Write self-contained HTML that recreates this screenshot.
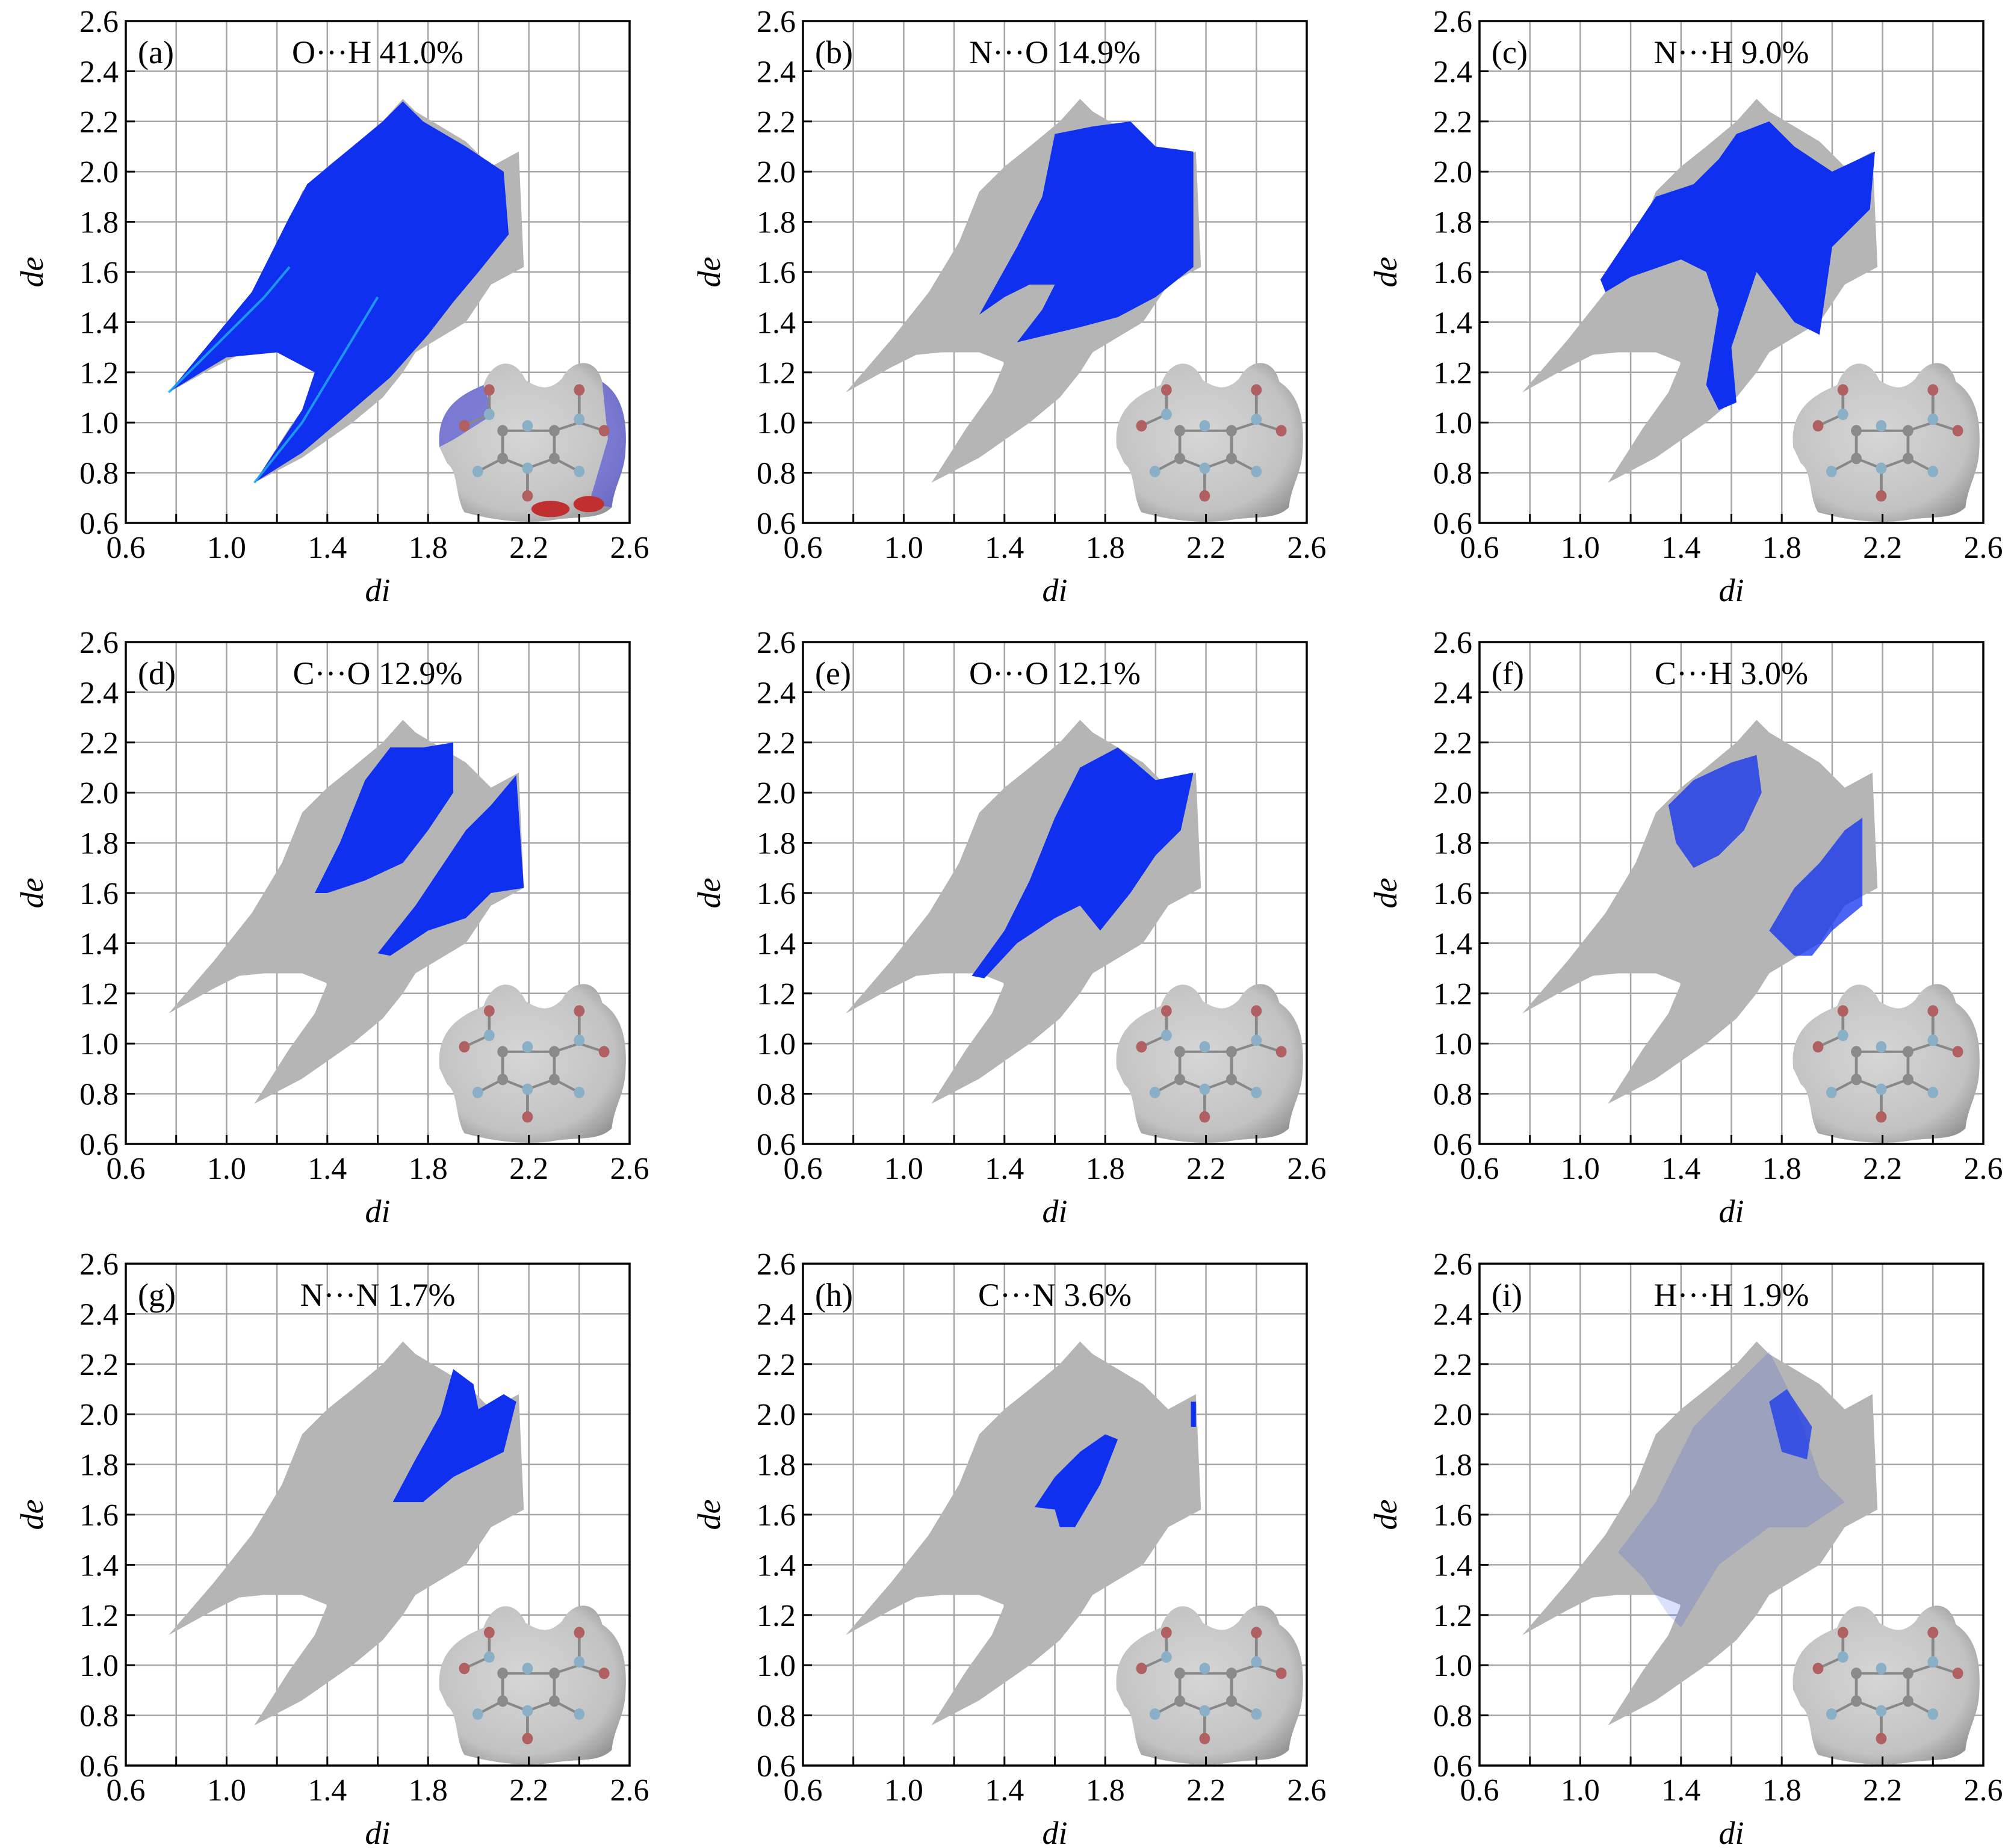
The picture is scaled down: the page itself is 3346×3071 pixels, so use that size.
<!DOCTYPE html>
<html><head><meta charset="utf-8"><style>
html,body{margin:0;padding:0;background:#fff;}
svg{display:block;font-family:"Liberation Serif",serif;}
</style></head><body>
<svg id="fig" width="3346" height="3071" viewBox="0 0 3346 3071" xmlns="http://www.w3.org/2000/svg">
<defs>
<radialGradient id="blobGrad" cx="0.45" cy="0.45" r="0.65">
<stop offset="0" stop-color="#d6d6d6"/><stop offset="0.75" stop-color="#c2c2c2"/><stop offset="1" stop-color="#959595"/>
</radialGradient>
</defs>
</svg>
<script>
// ---- shared axis settings ----
const xTicks = [0.6, 1.0, 1.4, 1.8, 2.2, 2.6];
const xTickLabels = ["0.6", "1.0", "1.4", "1.8", "2.2", "2.6"];
const yTicks = [0.6, 0.8, 1.0, 1.2, 1.4, 1.6, 1.8, 2.0, 2.2, 2.4, 2.6];
const yTickLabels = ["0.6", "0.8", "1.0", "1.2", "1.4", "1.6", "1.8", "2.0", "2.2", "2.4", "2.6"];
const gridVals = [0.8, 1.0, 1.2, 1.4, 1.6, 1.8, 2.0, 2.2, 2.4];

// ---- panel labels ----
const panelLetters = ["(a)", "(b)", "(c)", "(d)", "(e)", "(f)", "(g)", "(h)", "(i)"];
const panelTitles = ["O\u00b7\u00b7\u00b7H 41.0%", "N\u00b7\u00b7\u00b7O 14.9%", "N\u00b7\u00b7\u00b7H 9.0%",
  "C\u00b7\u00b7\u00b7O 12.9%", "O\u00b7\u00b7\u00b7O 12.1%", "C\u00b7\u00b7\u00b7H 3.0%",
  "N\u00b7\u00b7\u00b7N 1.7%", "C\u00b7\u00b7\u00b7N 3.6%", "H\u00b7\u00b7\u00b7H 1.9%"];

// ---- full fingerprint outline (di, de) ----
const fullDi = [0.77,0.95,1.10,1.22,1.30,1.40,1.50,1.62,1.70,1.75,1.85,1.95,2.05,2.16,2.18,2.05,1.95,1.85,1.75,1.70,1.62,1.50,1.30,1.11,1.25,1.35,1.40,1.30,1.15,1.05,0.95];
const fullDe = [1.12,1.33,1.52,1.72,1.92,2.02,2.10,2.20,2.29,2.24,2.18,2.12,2.02,2.08,1.62,1.55,1.40,1.34,1.28,1.20,1.10,1.00,0.86,0.76,0.98,1.12,1.24,1.28,1.28,1.27,1.22];

// ---- contact-specific regions (di, de) ----
const aDi = [0.77,1.10,1.25,1.32,1.50,1.62,1.70,1.78,1.95,2.10,2.12,2.00,1.90,1.80,1.65,1.50,1.30,1.11,1.30,1.35,1.20,1.00,0.90];
const aDe = [1.12,1.52,1.82,1.95,2.10,2.20,2.28,2.20,2.10,2.00,1.75,1.60,1.48,1.35,1.18,1.05,0.88,0.76,1.05,1.20,1.28,1.26,1.20];
const aStreak1Di = [0.77,1.00,1.15,1.25]; const aStreak1De = [1.12,1.35,1.50,1.62];
const aStreak2Di = [1.11,1.30,1.45,1.60]; const aStreak2De = [0.76,1.00,1.25,1.50];
const bDi = [1.30,1.45,1.55,1.60,1.75,1.90,2.00,2.15,2.15,2.00,1.85,1.70,1.45,1.55,1.60,1.50,1.40];
const bDe = [1.43,1.70,1.90,2.15,2.18,2.20,2.10,2.08,1.62,1.50,1.42,1.38,1.32,1.45,1.55,1.55,1.50];
const cDi = [1.08,1.30,1.45,1.55,1.62,1.75,1.85,2.00,2.17,2.15,2.00,1.95,1.85,1.70,1.60,1.62,1.55,1.50,1.55,1.50,1.40,1.20,1.10];
const cDe = [1.57,1.90,1.95,2.05,2.15,2.20,2.10,2.00,2.08,1.85,1.70,1.35,1.40,1.60,1.30,1.08,1.05,1.15,1.45,1.60,1.65,1.58,1.52];
const d1Di = [1.35,1.45,1.55,1.65,1.78,1.90,1.90,1.80,1.70,1.55,1.40];
const d1De = [1.60,1.80,2.05,2.18,2.18,2.20,2.00,1.85,1.72,1.65,1.60];
const d2Di = [1.60,1.75,1.85,1.95,2.05,2.15,2.18,2.05,1.95,1.80,1.65];
const d2De = [1.36,1.55,1.70,1.85,1.95,2.07,1.62,1.60,1.50,1.45,1.35];
const eDi = [1.27,1.40,1.50,1.60,1.70,1.85,2.00,2.15,2.10,2.00,1.90,1.78,1.70,1.60,1.45,1.32];
const eDe = [1.27,1.45,1.65,1.90,2.10,2.18,2.05,2.08,1.85,1.75,1.60,1.45,1.55,1.50,1.40,1.26];
const f1Di = [1.35,1.45,1.60,1.70,1.72,1.65,1.55,1.45,1.38];
const f1De = [1.95,2.05,2.12,2.15,2.00,1.85,1.75,1.70,1.80];
const f2Di = [1.75,1.85,1.95,2.05,2.12,2.12,2.00,1.92,1.85,1.80];
const f2De = [1.45,1.62,1.72,1.85,1.90,1.55,1.45,1.35,1.35,1.40];
const gDi = [1.66,1.75,1.85,1.90,1.98,2.00,2.10,2.15,2.10,2.00,1.90,1.78,1.72];
const gDe = [1.65,1.82,2.00,2.18,2.12,2.02,2.08,2.05,1.85,1.80,1.75,1.65,1.65];
const hDi = [1.52,1.60,1.70,1.80,1.85,1.78,1.68,1.62,1.60];
const hDe = [1.63,1.75,1.85,1.92,1.90,1.72,1.55,1.55,1.62];
const h2Di = [2.14,2.16,2.16,2.14]; const h2De = [1.95,1.95,2.05,2.05];
const iDi = [1.15,1.30,1.45,1.65,1.75,1.85,1.95,2.05,1.90,1.75,1.55,1.40,1.35,1.25];
const iDe = [1.45,1.65,1.95,2.15,2.25,2.05,1.75,1.65,1.55,1.55,1.40,1.15,1.20,1.35];
const i2Di = [1.75,1.82,1.92,1.90,1.80]; const i2De = [2.05,2.10,1.95,1.82,1.85];

const panelRegions = [
  [{di:aDi,de:aDe,op:1}],
  [{di:bDi,de:bDe,op:1}],
  [{di:cDi,de:cDe,op:1}],
  [{di:d1Di,de:d1De,op:1},{di:d2Di,de:d2De,op:1}],
  [{di:eDi,de:eDe,op:1}],
  [{di:f1Di,de:f1De,op:0.75},{di:f2Di,de:f2De,op:0.75}],
  [{di:gDi,de:gDe,op:1}],
  [{di:hDi,de:hDe,op:1},{di:h2Di,de:h2De,op:1}],
  [{di:iDi,de:iDe,op:0.15},{di:i2Di,de:i2De,op:0.7}]
];

// ---- layout ----
const NS = "http://www.w3.org/2000/svg";
const svg = document.getElementById("fig");
const colX = [209, 1334, 2458];
const rowY = [35, 1067, 2100];
const PW = 837, PH = 834;

function mk(tag, attrs, parent) {
  const e = document.createElementNS(NS, tag);
  for (const k in attrs) e.setAttribute(k, attrs[k]);
  parent.appendChild(e);
  return e;
}

for (let p = 0; p < 9; p++) {
  const x0 = colX[p % 3], y0 = rowY[Math.floor(p / 3)];
  const sx = v => x0 + (v - 0.6) / 2.0 * PW;
  const sy = v => y0 + PH - (v - 0.6) / 2.0 * PH;
  const g = mk("g", {}, svg);
  
  

  for (const v of gridVals) {
    const gl = mk("line", {x1: sx(v), x2: sx(v), y1: y0, y2: y0 + PH, stroke: "#a6a6a6", "stroke-width": 2.5}, g);
    
    
    const gh = mk("line", {x1: x0, x2: x0 + PW, y1: sy(v), y2: sy(v), stroke: "#a6a6a6", "stroke-width": 2.5}, g);
    
    
  }

  const pts = fullDi.map((d, i) => sx(d) + "," + sy(fullDe[i])).join(" ");
  const full = mk("polygon", {points: pts, fill: "#b5b5b5"}, g);
  
  

  for (const r of panelRegions[p]) {
    const rp = r.di.map((d, i) => sx(d) + "," + sy(r.de[i])).join(" ");
    const poly = mk("polygon", {points: rp, fill: "#1030f0", "fill-opacity": r.op}, g);
    
    
  }
  if (p === 0) {
    for (const s of [[aStreak1Di, aStreak1De], [aStreak2Di, aStreak2De]]) {
      const sp = s[0].map((d, i) => sx(d) + "," + sy(s[1][i])).join(" ");
      const pl = mk("polyline", {points: sp, fill: "none", stroke: "#20b0f0", "stroke-width": 4, "stroke-opacity": 0.8}, g);
      
      
    }
  }

  const ix = sx(1.83), iy = sy(1.26), iw = sx(2.59) - sx(1.83), ih = sy(0.61) - sy(1.26);
  const ins = mk("g", {transform: `translate(${ix},${iy}) scale(${iw},${ih})`}, g);
  
  
  mk("path", {d: "M0.02,0.55 C0.0,0.3 0.15,0.22 0.25,0.17 C0.3,0.0 0.42,0.0 0.47,0.14 C0.55,0.2 0.6,0.2 0.66,0.13 C0.72,0.0 0.84,0.0 0.87,0.15 C1.0,0.25 1.0,0.45 0.99,0.6 C0.98,0.72 0.93,0.8 0.92,0.92 C0.85,1.0 0.75,0.97 0.6,1.0 C0.45,1.02 0.3,1.0 0.15,0.95 C0.1,0.85 0.12,0.7 0.06,0.65 Z", fill: "url(#blobGrad)"}, ins);
  if (p === 0) {
    mk("path", {d: "M0.02,0.55 C0.0,0.3 0.15,0.22 0.25,0.17 L0.3,0.35 L0.1,0.5 Z", fill: "#5a5ad8", "fill-opacity": 0.7}, ins);
    mk("path", {d: "M0.87,0.15 C1.0,0.25 1.0,0.45 0.99,0.6 C0.98,0.72 0.93,0.8 0.92,0.92 L0.8,0.9 L0.9,0.5 Z", fill: "#5a5ad8", "fill-opacity": 0.7}, ins);
    mk("ellipse", {cx: 0.6, cy: 0.93, rx: 0.1, ry: 0.05, fill: "#c03030"}, ins);
    mk("ellipse", {cx: 0.8, cy: 0.9, rx: 0.08, ry: 0.05, fill: "#c03030"}, ins);
  }
  const bonds = [[0.35,0.45,0.48,0.45],[0.48,0.45,0.62,0.45],[0.62,0.45,0.75,0.4],[0.35,0.45,0.35,0.62],[0.62,0.45,0.62,0.62],[0.35,0.62,0.48,0.68],[0.48,0.68,0.62,0.62],[0.35,0.62,0.22,0.7],[0.62,0.62,0.75,0.7],[0.48,0.68,0.48,0.85],[0.28,0.35,0.28,0.2],[0.28,0.35,0.15,0.42],[0.75,0.4,0.75,0.2],[0.75,0.4,0.88,0.45]];
  for (const b of bonds) mk("line", {x1: b[0], y1: b[1], x2: b[2], y2: b[3], stroke: "#888", "stroke-width": 0.015}, ins);
  const atoms = [[0.35,0.45,"#8a8a8a"],[0.48,0.42,"#8ab0c8"],[0.62,0.45,"#8a8a8a"],[0.35,0.62,"#8a8a8a"],[0.62,0.62,"#8a8a8a"],[0.48,0.68,"#8ab0c8"],[0.22,0.7,"#8ab0c8"],[0.75,0.7,"#8ab0c8"],[0.48,0.85,"#b06060"],[0.28,0.35,"#8ab0c8"],[0.28,0.2,"#b06060"],[0.15,0.42,"#b06060"],[0.75,0.38,"#8ab0c8"],[0.75,0.2,"#b06060"],[0.88,0.45,"#b06060"]];
  for (const a of atoms) mk("ellipse", {cx: a[0], cy: a[1], rx: 0.028, ry: 0.035, fill: a[2]}, ins);

  const fr = mk("rect", {x: x0, y: y0, width: PW, height: PH, fill: "none", stroke: "#000", "stroke-width": 3.5}, g);
  
  

  for (let v = 0.8; v < 2.59; v += 0.2) {
    mk("line", {x1: sx(v), x2: sx(v), y1: y0 + PH, y2: y0 + PH - 15, stroke: "#000", "stroke-width": 3}, g);
    mk("line", {x1: x0, x2: x0 + 15, y1: sy(v), y2: sy(v), stroke: "#000", "stroke-width": 3}, g);
  }
  xTicks.forEach((v, i) => {
    const t = mk("text", {x: sx(v), y: y0 + PH + 58, "font-size": 52, "text-anchor": "middle"}, g);
    t.textContent = xTickLabels[i];
    
    
  });
  yTicks.forEach((v, i) => {
    const t = mk("text", {x: x0 - 12, y: sy(v) + 18, "font-size": 52, "text-anchor": "end"}, g);
    t.textContent = yTickLabels[i];
    
    
  });
  const xl = mk("text", {x: x0 + PW / 2, y: y0 + PH + 130, "font-size": 54, "font-style": "italic", "text-anchor": "middle"}, g);
  xl.textContent = "di";
  
  
  const yl = mk("text", {x: x0 - 138, y: y0 + PH / 2, "font-size": 54, "font-style": "italic", "text-anchor": "middle", transform: `rotate(-90 ${x0 - 138} ${y0 + PH / 2})`}, g);
  yl.textContent = "de";
  
  

  const lt = mk("text", {x: x0 + 20, y: y0 + 70, "font-size": 54}, g);
  lt.textContent = panelLetters[p];
  
  
  const tt = mk("text", {x: sx(1.6), y: y0 + 70, "font-size": 54, "text-anchor": "middle"}, g);
  tt.textContent = panelTitles[p];
  
  
}
</script>
</body></html>
